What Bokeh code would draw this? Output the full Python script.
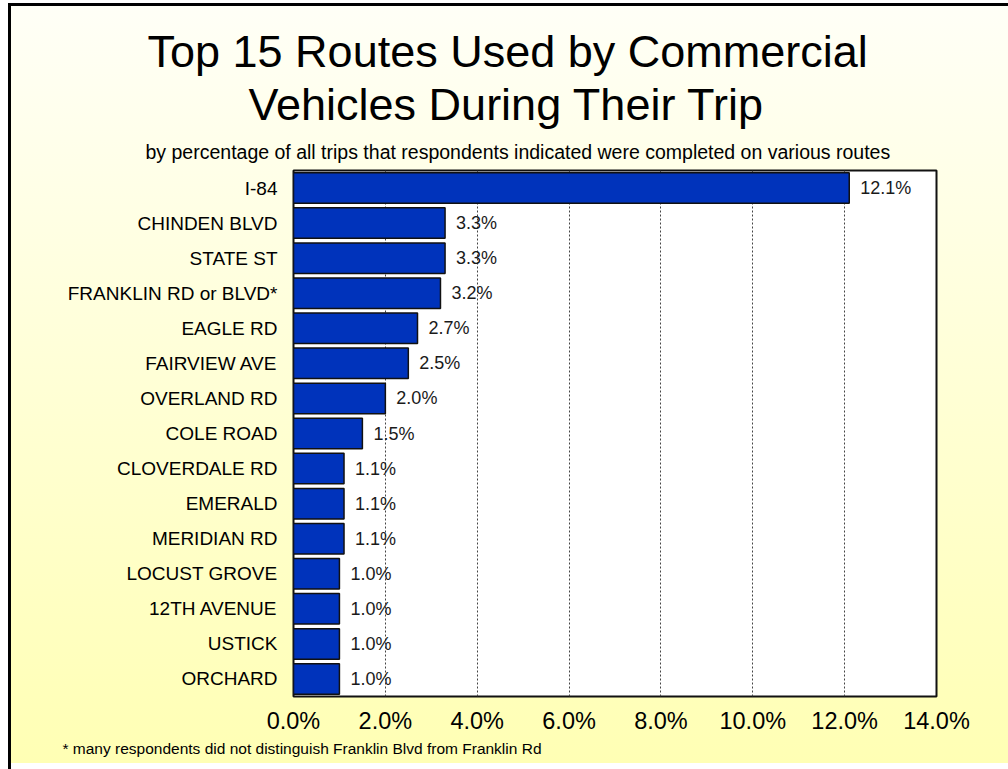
from bokeh.plotting import figure
from bokeh.models import Title, PrintfTickFormatter, FixedTicker, FactorRange, Range1d, ColumnDataSource
from bokeh.embed import file_html
from bokeh.resources import INLINE
from bokeh.core.properties import value

# ---- data ----
routes = ["I-84", "CHINDEN BLVD", "STATE ST", "FRANKLIN RD or BLVD*", "EAGLE RD",
          "FAIRVIEW AVE", "OVERLAND RD", "COLE ROAD", "CLOVERDALE RD", "EMERALD",
          "MERIDIAN RD", "LOCUST GROVE", "12TH AVENUE", "USTICK", "ORCHARD"]
shares = [12.1, 3.3, 3.3, 3.2, 2.7, 2.5, 2.0, 1.5, 1.1, 1.1, 1.1, 1.0, 1.0, 1.0, 1.0]
share_labels = ["12.1%", "3.3%", "3.3%", "3.2%", "2.7%", "2.5%", "2.0%", "1.5%",
                "1.1%", "1.1%", "1.1%", "1.0%", "1.0%", "1.0%", "1.0%"]
x_ticks = [0, 2, 4, 6, 8, 10, 12, 14]

title_lines = ["Top 15 Routes Used by Commercial", "Vehicles During Their Trip"]
subtitle = "by percentage of all trips that respondents indicated were completed on various routes"
footnote = "* many respondents did not distinguish Franklin Blvd from Franklin Rd"

FONT = "Liberation Sans"

src = ColumnDataSource(dict(route=routes, share=shares, label=share_labels))

W, H = 1000, 766
ML, MR, MT, MB = 285, 72, 167, 73

p = figure(width=W, height=H, output_backend="svg", toolbar_location=None,
           y_range=FactorRange(factors=list(reversed(routes)), range_padding=0),
           x_range=Range1d(0, 14),
           min_border_left=ML, min_border_right=MR, min_border_top=MT, min_border_bottom=MB)

p.styles = {
    "margin-left": "8px",
    "margin-top": "3px",
    "background-color": "#FFFFFF",
    "background-image": "linear-gradient(to bottom, #FFFFF7 0%, #FFFFB4 100%)",
    "background-size": "100% 760px",
    "background-repeat": "no-repeat",
    "background-position": "0 0",
    "box-shadow": "inset 3px 3px 0 0 #000000",
}
p.border_fill_color = None
p.border_fill_alpha = 0
p.background_fill_color = "white"
p.outline_line_color = "#111111"
p.outline_line_width = 2

# grid
p.ygrid.grid_line_color = None
p.xgrid.ticker = FixedTicker(ticks=x_ticks)
p.xgrid.grid_line_color = "#444444"
p.xgrid.grid_line_dash = "2 2"
p.xgrid.grid_line_width = 1

# bars
p.hbar(y="route", right="share", left=0, height=0.87, source=src,
       fill_color="#0033BB", line_color="#111111", line_width=1.5)

# value labels
p.text(x="share", y="route", text="label", source=src, x_offset=11,
       text_baseline="middle", text_align="left",
       text_font=value(FONT), text_font_size="18px", text_color="#1a1a1a")

# axes
xa = p.xaxis[0]
xa.ticker = FixedTicker(ticks=x_ticks)
xa.formatter = PrintfTickFormatter(format="%.1f%%")
xa.axis_line_color = None
xa.major_tick_line_color = None
xa.major_tick_out = 0
xa.major_tick_in = 0
xa.minor_tick_line_color = None
xa.minor_tick_out = 0
xa.major_label_standoff = 11
xa.major_label_text_font = FONT
xa.major_label_text_font_size = "23.5px"
xa.major_label_text_color = "black"

ya = p.yaxis[0]
ya.axis_line_color = None
ya.major_tick_line_color = None
ya.major_tick_out = 0
ya.major_tick_in = 0
ya.minor_tick_line_color = None
ya.minor_tick_out = 0
ya.major_label_standoff = 16
ya.major_label_text_font = FONT
ya.major_label_text_font_size = "19px"
ya.major_label_text_color = "black"

# titles (first added sits closest to the frame); left-aligned with offsets from frame left
def mk_title(txt, size, left_x, standoff):
    return Title(text=txt, align="left", offset=left_x - ML, standoff=standoff,
                 text_font=FONT, text_font_size=size, text_font_style="normal",
                 text_color="black")


p.add_layout(mk_title(subtitle, "19.5px", 137, 16), "above")
p.add_layout(mk_title(title_lines[1], "45px", 240, 1), "above")
p.add_layout(mk_title(title_lines[0], "45px", 139, 0), "above")

p.add_layout(mk_title(footnote, "15.5px", 54, 2), "below")

open("out.html", "w").write(file_html(p, INLINE))
